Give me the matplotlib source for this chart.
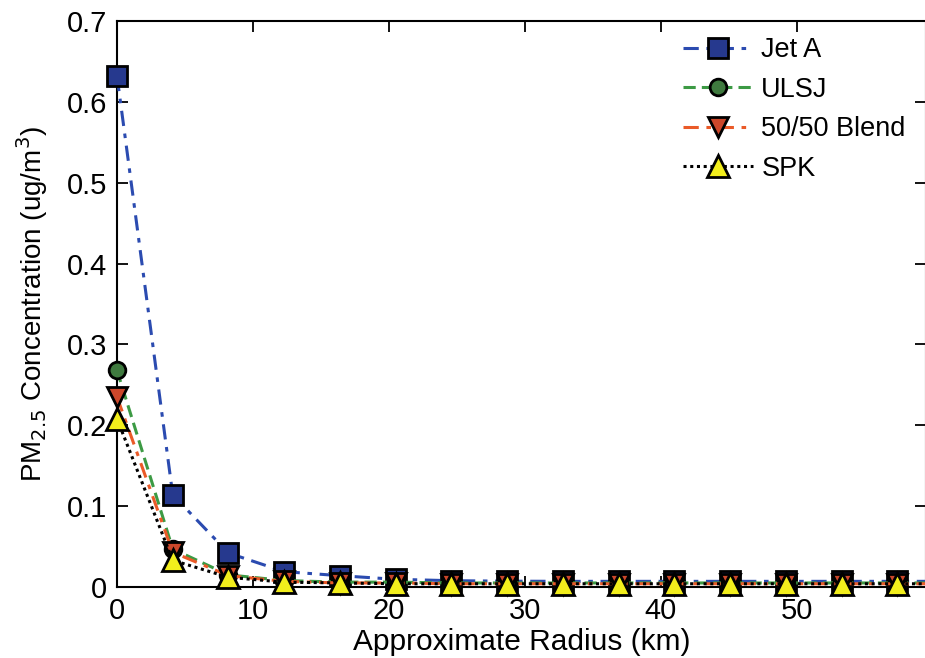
import numpy as np
import matplotlib
matplotlib.use("Agg")
import matplotlib.pyplot as plt

plt.rcParams['font.family'] = ['Liberation Sans', 'DejaVu Sans']

# radius values (km), last one lies just past the cropped right edge
radius = [0, 4.1, 8.2, 12.3, 16.4, 20.5, 24.6, 28.7, 32.8, 36.9, 41.0, 45.1, 49.2, 53.3, 57.4, 61.5]

jet_a = [0.632, 0.114, 0.042, 0.019, 0.014, 0.0095, 0.0078, 0.0072, 0.007, 0.007, 0.007, 0.007, 0.007, 0.007, 0.007, 0.007]
ulsj = [0.268, 0.047, 0.015, 0.008, 0.006, 0.006, 0.005, 0.005, 0.005, 0.005, 0.005, 0.005, 0.005, 0.005, 0.005, 0.005]
blend = [0.235, 0.043, 0.014, 0.007, 0.005, 0.005, 0.004, 0.004, 0.004, 0.004, 0.004, 0.004, 0.004, 0.004, 0.004, 0.004]
spk = [0.208, 0.033, 0.012, 0.006, 0.005, 0.004, 0.004, 0.004, 0.004, 0.004, 0.004, 0.004, 0.004, 0.004, 0.004, 0.004]

names = ['Jet A', 'ULSJ', '50/50 Blend', 'SPK']

fig = plt.figure(figsize=(9.25, 6.58), dpi=100)
ax = fig.add_axes([117/925, 1-587/658, (926-117)/925, (587-21)/658])

lw = 2.2
ax.plot(radius, jet_a, color='#2b4bb0', lw=lw, dashes=(5, 2.5, 1.5, 2.5),
        marker='s', ms=14, mfc='#26398e', mec='black', mew=2, label=names[0], clip_on=False)
ax.plot(radius, ulsj, color='#3c9a44', lw=lw, dashes=(4, 2),
        marker='o', ms=12, mfc='#3f7a3f', mec='black', mew=2, label=names[1], clip_on=False)
ax.plot(radius, blend, color='#ea5a28', lw=lw, dashes=(5, 2.5, 1.5, 2.5),
        marker='v', ms=14, mfc='#cc472b', mec='black', mew=2, label=names[2], clip_on=False)
ax.plot(radius, spk, color='black', lw=lw, dashes=(1, 1.2),
        marker='^', ms=16, mfc='#f2ee1c', mec='black', mew=2, label=names[3], clip_on=False)

ax.set_xlim(0, 59.5)
ax.set_ylim(0, 0.7)
ax.set_xticks([0, 10, 20, 30, 40, 50])
ax.set_yticks([0, 0.1, 0.2, 0.3, 0.4, 0.5, 0.6, 0.7])
ax.set_yticklabels(['0', '0.1', '0.2', '0.3', '0.4', '0.5', '0.6', '0.7'])
ax.tick_params(direction='in', top=True, right=True, length=8, width=1.3,
               labelsize=21, pad=7)
for s in ax.spines.values():
    s.set_linewidth(1.5)
    s.set_zorder(1)

ax.set_xlabel('Approximate Radius (km)', fontsize=21.5, labelpad=2)
ax.set_ylabel('PM$_{2.5}$ Concentration (ug/m$^3$)', fontsize=20, labelpad=12)

leg = ax.legend(loc='upper right', bbox_to_anchor=(0.995, 1.0), frameon=False,
                fontsize=19.5, handlelength=2.6, handletextpad=0.3,
                labelspacing=0.5, borderaxespad=0.2)

fig.savefig('out.png', dpi=100)
